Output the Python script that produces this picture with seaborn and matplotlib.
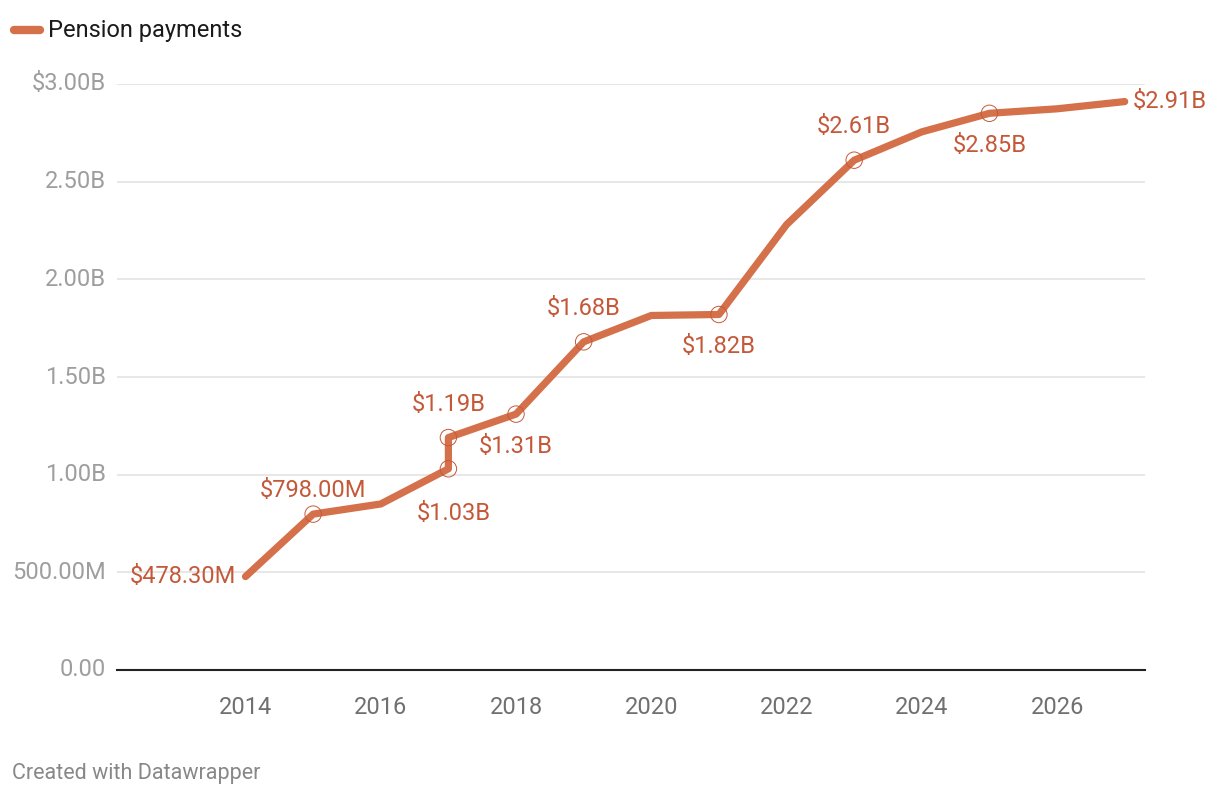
import pandas as pd
import matplotlib.pyplot as plt
import seaborn as sns

# Pension payments, in billions of dollars (2017 has two values)
years = [2014, 2015, 2016, 2017, 2017, 2018, 2019, 2020, 2021, 2022, 2023, 2024, 2025, 2026, 2027]
payments = [0.4783, 0.798, 0.85, 1.03, 1.19, 1.31, 1.68, 1.815, 1.82, 2.28, 2.61, 2.755, 2.85, 2.873, 2.91]
# which points carry a value label (index -> placement)
labelled = {0: 'left', 1: 'above', 3: 'below', 4: 'above', 5: 'below', 6: 'above',
            8: 'below', 10: 'above', 12: 'below', 14: 'right'}
circled = [1, 3, 4, 5, 6, 8, 10, 12]

yticks = [0, 0.5, 1.0, 1.5, 2.0, 2.5, 3.0]
ytick_labels = ['0.00', '500.00M', '1.00B', '1.50B', '2.00B', '2.50B', '$3.00B']
xticks = [2014, 2016, 2018, 2020, 2022, 2024, 2026]

df = pd.DataFrame({'year': years, 'value': payments})

LINE = '#d4704a'
LABEL = '#c4593a'
FS = 17

sns.set_style('white')
plt.rcParams['font.family'] = ['Roboto', 'DejaVu Sans']

fig = plt.figure(figsize=(12.2, 7.98), dpi=100)
ax = fig.add_axes([117 / 1220, 1 - 670 / 798, (1145 - 117) / 1220, (670 - 84) / 798])

sns.lineplot(data=df, x='year', y='value', sort=False, estimator=None, color=LINE,
             linewidth=5.2, solid_capstyle='round', solid_joinstyle='round', ax=ax, zorder=3)

pts = df.loc[circled]
sns.scatterplot(data=pts, x='year', y='value', s=140, facecolor='none', edgecolor=LABEL,
                linewidth=0.7, ax=ax, zorder=4)


def fmt(v):
    return f'${v * 1000:.2f}M' if v < 1 else f'${v:.2f}B'


offsets = {'above': (0, 24, 'center', 'center'), 'below': (0, -23, 'center', 'center'),
           'left': (-7, 0, 'right', 'center'), 'right': (6, 0, 'left', 'center')}
for i, where in labelled.items():
    dx, dy, ha, va = offsets[where]
    if i == 1:
        dy = 17
    if i == 3:
        dx, dy = 4, -32
    ax.annotate(fmt(payments[i]), (years[i], payments[i]), xytext=(dx, dy),
                textcoords='offset points', ha=ha, va=va, fontsize=FS, color=LABEL,
                zorder=5, annotation_clip=False)

ax.set_xlim(2012.1, 2027.3)
ax.set_ylim(0, 3.0)
ax.set_yticks(yticks)
ax.set_yticklabels(ytick_labels)
ax.set_xticks(xticks)
ax.set_xlabel('')
ax.set_ylabel('')
ax.grid(axis='y', color='#e3e3e3', linewidth=1.2)
ax.set_axisbelow(True)
for side in ['top', 'right', 'left']:
    ax.spines[side].set_visible(False)
ax.spines['bottom'].set_color('#222222')
ax.spines['bottom'].set_linewidth(1.5)
ax.tick_params(axis='y', length=0, pad=8, labelsize=FS, labelcolor='#9e9e9e')
ax.tick_params(axis='x', length=9, width=1.5, color='#222222', direction='out', pad=10,
               labelsize=FS, labelcolor='#707070')
for lab in ax.get_yticklabels():
    lab.set_verticalalignment('center')

# legend
fig.lines.append(plt.Line2D([14 / 1220, 40 / 1220], [1 - 30 / 798] * 2, transform=fig.transFigure,
                            color=LINE, linewidth=6, solid_capstyle='round'))
fig.text(48 / 1220, 1 - 30 / 798, 'Pension payments', fontsize=FS, color='#1a1a1a',
         ha='left', va='center')

fig.text(12 / 1220, 1 - 773 / 798, 'Created with Datawrapper', fontsize=15.5, color='#888888',
         ha='left', va='center')

fig.savefig('out.png', dpi=100)
